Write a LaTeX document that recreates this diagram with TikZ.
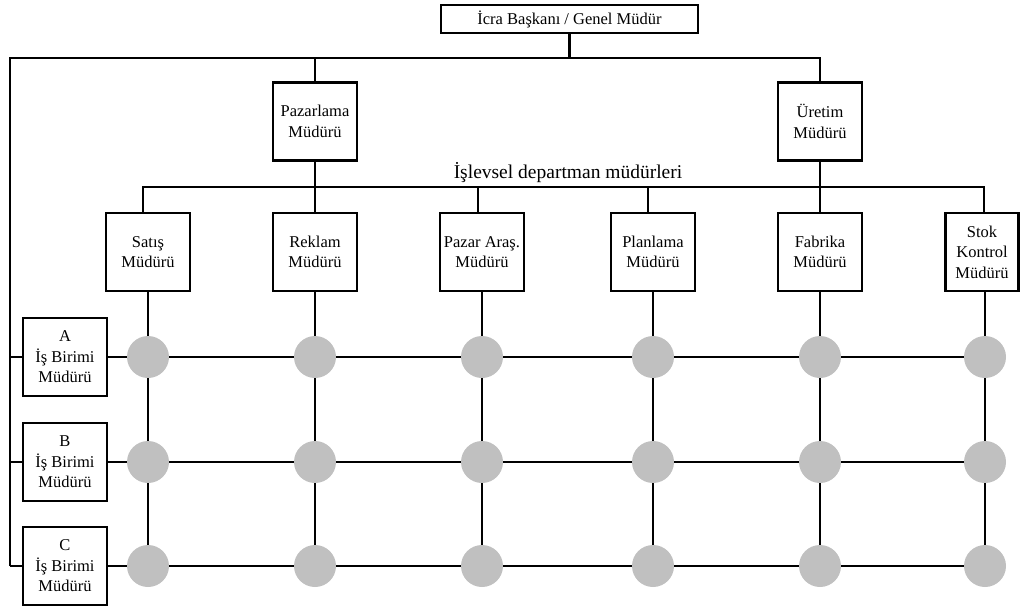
\documentclass[tikz,border=0pt]{standalone}
\usepackage{fontspec}
\setmainfont{Liberation Serif}
\definecolor{hubgray}{RGB}{192,192,192}
\begin{document}
\begin{tikzpicture}[x=1pt,y=-1pt,
  box/.style={draw,line width=2.6pt,inner sep=0pt,align=center,
    font=\fontsize{16.5}{20.5}\selectfont,minimum width=84pt,minimum height=78pt},
  link/.style={line width=2.3pt},
  hub/.style={circle,fill=hubgray,minimum size=42pt,inner sep=0pt}]
\useasboundingbox (0,0) rectangle (1020,608);

% top management
\node[box,minimum width=257pt,minimum height=28pt] (ceo) at (569.5,19) {İcra Başkanı / Genel Müdür};
\node[box] (pazarlama) at (315,121.5) {Pazarlama\\Müdürü};
\node[box] (uretim) at (820,121.5) {Üretim\\Müdürü};
\node[font=\fontsize{19.5}{23}\selectfont] (lbl) at (568,173) {İşlevsel departman müdürleri};

% functional departments
\node[box] (satis)   at (148,252) {Satış\\Müdürü};
\node[box] (reklam)  at (315,252) {Reklam\\Müdürü};
\node[box] (pazar)   at (482,252) {Pazar Araş.\\Müdürü};
\node[box] (plan)    at (653,252) {Planlama\\Müdürü};
\node[box] (fabrika) at (820,252) {Fabrika\\Müdürü};
\node[box,minimum width=73pt] (stok) at (982,252) {Stok\\Kontrol\\Müdürü};

% business unit managers
\node[box] (A) at (65,357) {A\\İş Birimi\\Müdürü};
\node[box] (B) at (65,462) {B\\İş Birimi\\Müdürü};
\node[box] (C) at (65,566) {C\\İş Birimi\\Müdürü};

% matrix hubs
\foreach \r/\y in {a/357,b/462,c/566}
  \foreach \i/\x in {1/148,2/315,3/482,4/653,5/820,6/985}
    \node[hub] (\r\i) at (\x,\y) {};

% reporting lines from the top
\coordinate (tl) at (10,58);
\coordinate (dl) at (0,187);
\draw[link] (ceo.south) -- (ceo.south |- tl);
\draw[link] (tl |- C) -- (tl) -| (uretim.north);
\draw[link] (pazarlama.north) -- (pazarlama.north |- tl);
\draw[link] (tl |- A) -- (A.west);
\draw[link] (tl |- B) -- (B.west);
\draw[link] (tl |- C) -- (C.west);

% functional department bar
\draw[link] ([xshift=-5pt]satis.north) -- ([xshift=-5pt]satis.north |- dl)
  -- ([xshift=2pt]stok.north |- dl) -- ([xshift=2pt]stok.north);
\draw[link] (pazarlama.south) -- (reklam.north);
\draw[link] (uretim.south) -- (fabrika.north);
\draw[link] ([xshift=-4pt]pazar.north) -- ([xshift=-4pt]pazar.north |- dl);
\draw[link] ([xshift=-5pt]plan.north) -- ([xshift=-5pt]plan.north |- dl);

% matrix columns
\foreach \d/\i in {satis/1,reklam/2,pazar/3,plan/4,fabrika/5,stok/6}
  \draw[link] (\d.south -| a\i) -- (a\i) -- (b\i) -- (c\i);

% matrix rows
\draw[link] (A) -- (a1) -- (a2) -- (a3) -- (a4) -- (a5) -- (a6);
\draw[link] (B) -- (b1) -- (b2) -- (b3) -- (b4) -- (b5) -- (b6);
\draw[link] (C) -- (c1) -- (c2) -- (c3) -- (c4) -- (c5) -- (c6);
\end{tikzpicture}
\end{document}
